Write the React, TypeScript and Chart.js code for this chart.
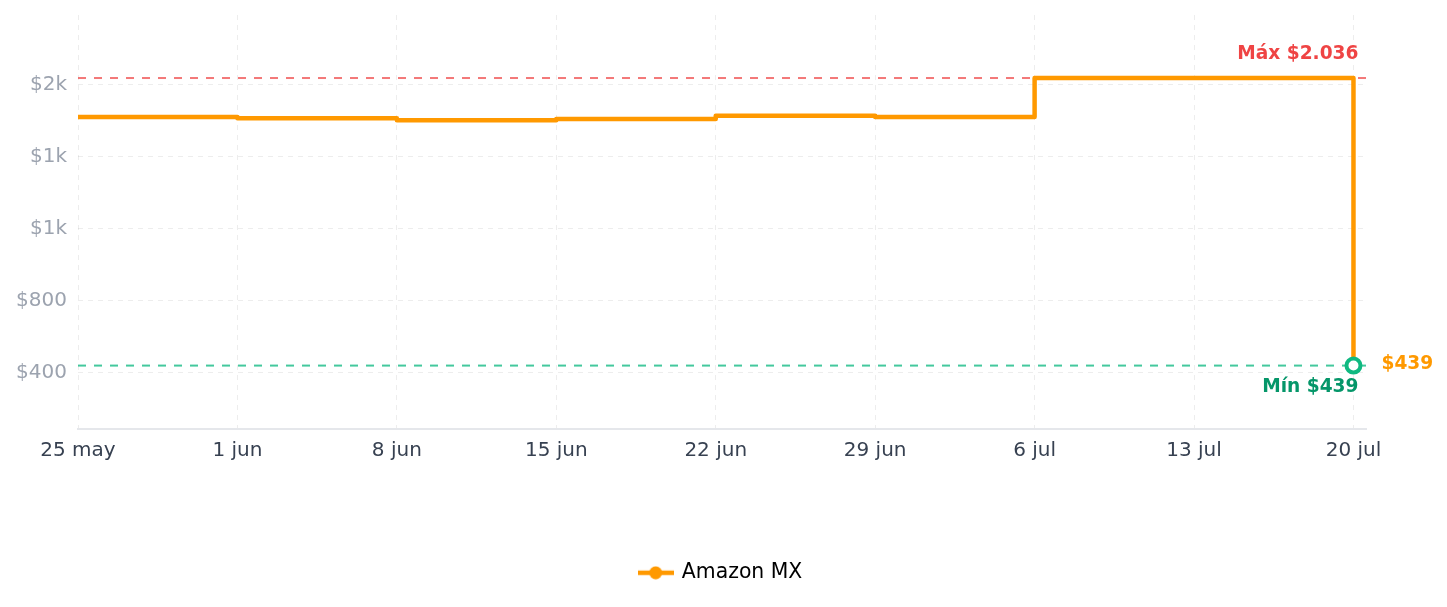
import React, { useEffect, useRef } from 'react';
import { Chart, registerables } from 'chart.js';

Chart.register(...registerables);

// ---- data ----
const dateLabels = ['25 may', '1 jun', '8 jun', '15 jun', '22 jun', '29 jun', '6 jul', '13 jul', '20 jul'];
const dayOffsets = [0, 7, 14, 21, 28, 35, 42, 49, 56];
const prices = [1820, 1813, 1802, 1808, 1826, 1820, 2036, 2036, 439];
const yTickValues = [400, 800, 1200, 1600, 2000];
const yTickLabels = ['$400', '$800', '$1k', '$1k', '$2k'];
const seriesName = 'Amazon MX';
const yMin = 89;
const yMax = 2386;
const xMin = 0;
const xMax = 56.55;

const LINE_COLOR = '#ff9900';
const MAX_COLOR = '#ef4444';
const MIN_COLOR = '#059669';
const POINT_COLOR = '#10b981';

const fmt = (v: number) => '$' + String(v).replace(/\B(?=(\d{3})+(?!\d))/g, '.');

export default function App() {
  const ref = useRef<HTMLCanvasElement>(null);

  useEffect(() => {
    const canvas = ref.current;
    if (!canvas) return;
    Chart.defaults.font.family = "'DejaVu Sans', sans-serif";

    // legend icon: line with a dot
    const icon = document.createElement('canvas');
    icon.width = 36;
    icon.height = 14;
    const ic = icon.getContext('2d')!;
    ic.strokeStyle = LINE_COLOR;
    ic.lineWidth = 4.5;
    ic.beginPath();
    ic.moveTo(0, 7);
    ic.lineTo(36, 7);
    ic.stroke();
    ic.fillStyle = LINE_COLOR;
    ic.beginPath();
    ic.arc(18, 7, 6.5, 0, Math.PI * 2);
    ic.fill();

    const maxV = Math.max(...prices);
    const minV = Math.min(...prices);
    const lastIdx = prices.length - 1;

    const refLines = {
      id: 'refLines',
      beforeDatasetsDraw(chart: any) {
        const { ctx, chartArea: a, scales } = chart;
        const y = scales.y;
        const draw = (v: number, color: string) => {
          const py = y.getPixelForValue(v);
          ctx.save();
          ctx.strokeStyle = color;
          ctx.lineWidth = 2;
          ctx.setLineDash([8, 8]);
          ctx.beginPath();
          ctx.moveTo(a.left, py);
          ctx.lineTo(a.right, py);
          ctx.stroke();
          ctx.restore();
        };
        draw(maxV, 'rgba(239,68,68,0.72)');
        draw(minV, 'rgba(16,185,129,0.78)');
      },
      afterDatasetsDraw(chart: any) {
        const { ctx, scales } = chart;
        const x = scales.x;
        const y = scales.y;
        const px = x.getPixelForValue(dayOffsets[lastIdx]);
        ctx.save();
        ctx.font = "bold 18.6px 'DejaVu Sans', sans-serif";
        ctx.textBaseline = 'middle';
        ctx.textAlign = 'right';
        ctx.fillStyle = MAX_COLOR;
        ctx.fillText('Máx ' + fmt(maxV), px + 5, y.getPixelForValue(maxV) - 24);
        ctx.fillStyle = MIN_COLOR;
        ctx.fillText('Mín ' + fmt(minV), px + 5, y.getPixelForValue(minV) + 22);
        ctx.textAlign = 'left';
        ctx.fillStyle = LINE_COLOR;
        ctx.fillText(fmt(prices[lastIdx]), px + 28, y.getPixelForValue(prices[lastIdx]) - 1);
        ctx.restore();
      },
    };

    const chart = new Chart(canvas, {
      type: 'line',
      data: {
        datasets: [
          {
            label: seriesName,
            data: prices.map((p, i) => ({ x: dayOffsets[i], y: p })),
            borderColor: LINE_COLOR,
            backgroundColor: LINE_COLOR,
            borderWidth: 4.5,
            stepped: 'before',
            borderJoinStyle: 'round',
            fill: false,
            pointRadius: (c: any) => (c.dataIndex === lastIdx ? 7 : 0),
            pointHoverRadius: (c: any) => (c.dataIndex === lastIdx ? 7 : 0),
            pointBackgroundColor: '#ffffff',
            pointBorderColor: POINT_COLOR,
            pointBorderWidth: 4,
          } as any,
        ],
      },
      options: {
        animation: false,
        responsive: true,
        maintainAspectRatio: false,
        layout: { autoPadding: false, padding: { top: 7, left: 9, right: 14, bottom: 6 } },
        plugins: {
          tooltip: { enabled: false },
          legend: {
            display: true,
            position: 'bottom',
            labels: {
              usePointStyle: true,
              pointStyleWidth: 32,
              padding: 10,
              color: '#000000',
              font: { size: 20.4 },
              generateLabels: () => [
                {
                  text: seriesName,
                  pointStyle: icon as any,
                  fillStyle: LINE_COLOR,
                  strokeStyle: LINE_COLOR,
                  lineWidth: 0,
                  hidden: false,
                  datasetIndex: 0,
                  fontColor: '#000000',
                } as any,
              ],
            },
          },
        },
        scales: {
          x: {
            type: 'linear',
            min: xMin,
            max: xMax,
            afterBuildTicks: (s: any) => {
              s.ticks = dayOffsets.map((v) => ({ value: v }));
            },
            afterFit: (s: any) => {
              s.height = 124;
              s.paddingLeft = 0;
              s.paddingRight = 0;
            },
            ticks: {
              color: '#374151',
              font: { size: 20 },
              padding: 10,
              maxRotation: 0,
              autoSkip: false,
              callback: (_v: any, i: number) => dateLabels[i],
            },
            grid: { color: 'rgba(0,0,0,0.07)', lineWidth: 1, drawTicks: false },
            border: { display: true, color: '#e5e7eb', width: 2, dash: [5, 5] },
          },
          y: {
            type: 'linear',
            min: yMin,
            max: yMax,
            afterBuildTicks: (s: any) => {
              s.ticks = yTickValues.map((v) => ({ value: v }));
            },
            afterFit: (s: any) => {
              s.width = 61;
              s.paddingTop = 0;
              s.paddingBottom = 0;
            },
            ticks: {
              color: '#9ca3af',
              font: { size: 20 },
              padding: 11,
              callback: (_v: any, i: number) => yTickLabels[i],
            },
            grid: { color: 'rgba(0,0,0,0.07)', lineWidth: 1, drawTicks: false },
            border: { display: false, dash: [5, 5] },
          },
          yRight: {
            type: 'linear',
            position: 'right',
            display: true,
            ticks: { display: false },
            grid: { display: false, drawTicks: false },
            border: { display: false },
            afterFit: (s: any) => {
              s.width = 59;
              s.paddingTop = 0;
              s.paddingBottom = 0;
            },
          },
        },
      } as any,
      plugins: [refLines],
    });

    return () => chart.destroy();
  }, []);

  return (
    <div style={{ position: 'relative', width: '100%', height: '591px' }}>
      <canvas ref={ref} />
    </div>
  );
}
